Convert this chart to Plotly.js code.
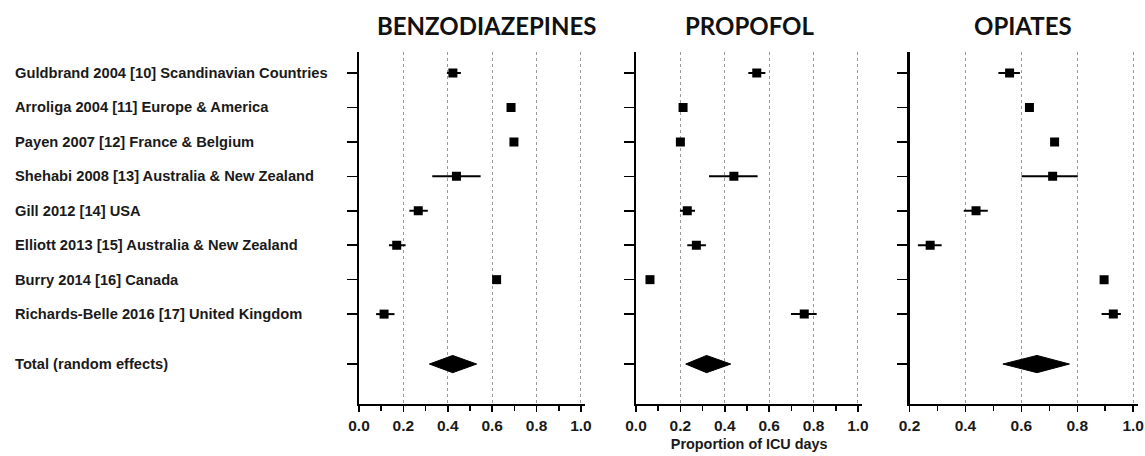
<!DOCTYPE html>
<html>
<head>
<meta charset="utf-8">
<script src="https://cdn.plot.ly/plotly-3.0.1.min.js"></script>
<style>html,body{margin:0;padding:0;background:#fff}#chart{width:1145px;height:456px}</style>
</head>
<body>
<div id="chart"></div>
<script>
// ---- data ----
const studies = [
  "Guldbrand 2004 [10] Scandinavian Countries",
  "Arroliga 2004 [11] Europe & America",
  "Payen 2007 [12] France & Belgium",
  "Shehabi 2008 [13] Australia & New Zealand",
  "Gill 2012 [14] USA",
  "Elliott 2013 [15] Australia & New Zealand",
  "Burry 2014 [16] Canada",
  "Richards-Belle 2016 [17] United Kingdom"
];
const totalLabel = "Total (random effects)";
const panelTitles = ["BENZODIAZEPINES", "PROPOFOL", "OPIATES"];
const xAxisTitle = "Proportion of ICU days";

const benzoEst = [0.423, 0.685, 0.698, 0.439, 0.267, 0.170, 0.620, 0.113];
const benzoLo  = [0.396, 0.675, 0.688, 0.330, 0.227, 0.135, 0.610, 0.077];
const benzoHi  = [0.459, 0.695, 0.708, 0.548, 0.310, 0.210, 0.630, 0.160];
const benzoTotal = [0.317, 0.422, 0.530]; // lo, est, hi

const propEst = [0.544, 0.212, 0.200, 0.441, 0.231, 0.272, 0.063, 0.758];
const propLo  = [0.506, 0.202, 0.190, 0.329, 0.198, 0.231, 0.053, 0.698];
const propHi  = [0.583, 0.222, 0.210, 0.548, 0.266, 0.315, 0.073, 0.814];
const propTotal = [0.224, 0.318, 0.427];

const opiEst = [0.558, 0.629, 0.719, 0.712, 0.438, 0.274, 0.896, 0.929];
const opiLo  = [0.518, 0.621, 0.711, 0.601, 0.394, 0.230, 0.888, 0.887];
const opiHi  = [0.595, 0.637, 0.727, 0.802, 0.480, 0.315, 0.904, 0.956];
const opiTotal = [0.534, 0.656, 0.772];

const majorTicks = [0, 0.2, 0.4, 0.6, 0.8, 1.0];
const minorTicks = [0.1, 0.3, 0.5, 0.7, 0.9];

// ---- layout helpers ----
const W = 1145, H = 456;
const n = studies.length;
const rowY = studies.map((_, i) => n + 2 - i);   // 10 .. 3
const totalY = 1.55;
const dh = 0.25;

const panels = [
  {est: benzoEst, lo: benzoLo, hi: benzoHi, tot: benzoTotal, xa: 'x',  ya: 'y',  px: [359, 585.4],  range: [0, 1.02],  titleX: 486},
  {est: propEst,  lo: propLo,  hi: propHi,  tot: propTotal,  xa: 'x2', ya: 'y2', px: [636, 862.4],  range: [0, 1.02],  titleX: 750},
  {est: opiEst,   lo: opiLo,   hi: opiHi,   tot: opiTotal,   xa: 'x3', ya: 'y3', px: [909.5, 1137.5], range: [0.2, 1.0155], titleX: 1023}
];

const traces = [];
const layout = {
  width: W, height: H,
  margin: {l: 0, r: 0, t: 0, b: 0},
  paper_bgcolor: '#fff', plot_bgcolor: '#fff',
  showlegend: false,
  font: {family: 'Liberation Sans, Arial, sans-serif', color: '#111'},
  annotations: []
};

const yDomain = [1 - 404 / H, 1 - 52 / H];
const tickFont = {family: 'Liberation Sans, Arial, sans-serif', size: 15.5, color: '#1a1a1a', weight: 'bold'};

panels.forEach((p, k) => {
  traces.push({
    type: 'scatter', mode: 'markers', xaxis: p.xa, yaxis: p.ya,
    x: p.est, y: rowY,
    marker: {symbol: 'square', size: 9, color: '#000'},
    error_x: {type: 'data', symmetric: false,
      array: p.hi.map((h, i) => h - p.est[i]),
      arrayminus: p.lo.map((l, i) => p.est[i] - l),
      color: '#000', thickness: 2, width: 0},
    hoverinfo: 'x'
  });
  traces.push({
    type: 'scatter', mode: 'lines', xaxis: p.xa, yaxis: p.ya,
    x: [p.tot[0], p.tot[1], p.tot[2], p.tot[1], p.tot[0]],
    y: [totalY, totalY + dh, totalY, totalY - dh, totalY],
    fill: 'toself', fillcolor: '#000', line: {color: '#000', width: 1},
    hoverinfo: 'x'
  });
  const sfx = k === 0 ? '' : String(k + 1);
  const maj = majorTicks.filter(v => v >= p.range[0] - 1e-9);
  layout['xaxis' + sfx] = {
    domain: [p.px[0] / W, p.px[1] / W],
    anchor: p.ya,
    range: p.range,
    tickvals: maj,
    ticktext: maj.map(v => v.toFixed(1)),
    ticks: 'outside', ticklen: 6, tickwidth: 1.5, tickcolor: '#000',
    minor: {tickvals: minorTicks.filter(v => v >= p.range[0]), ticks: 'outside', ticklen: 5, tickwidth: 1.5, tickcolor: '#000', showgrid: false},
    showline: true, linecolor: '#000', linewidth: 2,
    showgrid: true, gridcolor: '#9a9a9a', griddash: 'dot', gridwidth: 1,
    zeroline: false,
    tickfont: tickFont,
    ticklabelstandoff: 0,
    ticklabeloverflow: 'allow',
    fixedrange: true
  };
  layout['yaxis' + sfx] = {
    domain: yDomain,
    anchor: p.xa,
    range: [0.39, 10.61],
    tickvals: rowY.concat([totalY]),
    ticks: 'outside', ticklen: 10, tickwidth: 1.5, tickcolor: '#000',
    showticklabels: false,
    showline: true, linecolor: '#000', linewidth: 2.5,
    showgrid: false, zeroline: false,
    fixedrange: true
  };
  layout.annotations.push({
    xref: 'paper', yref: 'paper', x: p.titleX / W, y: 1 - 25.5 / H,
    xanchor: 'center', yanchor: 'middle', showarrow: false,
    text: panelTitles[k],
    font: {family: 'Lato, Open Sans, sans-serif', size: 24, color: '#111', weight: 'bold'}
  });
});

layout.xaxis2.title = {
  text: xAxisTitle,
  font: {family: 'Liberation Sans, Arial, sans-serif', size: 14.4, color: '#1a1a1a', weight: 'bold'},
  standoff: 6
};

studies.concat([totalLabel]).forEach((s, i) => {
  layout.annotations.push({
    xref: 'paper', yref: 'y', x: 13 / W, y: i < n ? rowY[i] : totalY,
    xanchor: 'left', yanchor: 'middle', showarrow: false,
    text: s,
    font: {family: 'Liberation Sans, Arial, sans-serif', size: 14.7, color: '#1a1a1a', weight: 'bold'}
  });
});

Plotly.newPlot('chart', traces, layout, {displayModeBar: false, staticPlot: true});
</script>
</body>
</html>
